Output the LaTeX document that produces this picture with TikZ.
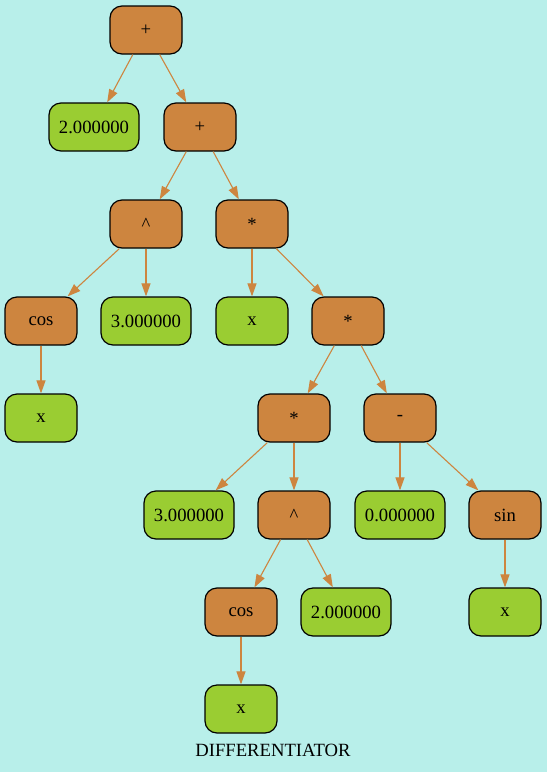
\documentclass[tikz,border=0pt]{standalone}
\usepackage{fontspec}
\setmainfont{Liberation Serif}
\usetikzlibrary{arrows.meta}
\definecolor{bgcol}{HTML}{B8EFEA}
\definecolor{opcol}{HTML}{CD853F}
\definecolor{leafcol}{HTML}{9ACD32}
\begin{document}
\begin{tikzpicture}[x=1pt,y=-1pt,
  label font/.style={font=\fontsize{18.67}{21}\selectfont},
  box/.style={draw=black,line width=1.2pt,rounded corners=12pt,minimum height=48pt,
    inner sep=0pt,label font},
  op/.style={box,fill=opcol,minimum width=72pt},
  leaf/.style={box,fill=leafcol,minimum width=72pt},
  num/.style={box,fill=leafcol,minimum width=90pt},
  link/.style={draw=opcol,line width=1.1pt,-{Triangle[length=13pt,width=9pt]}}]
\fill[bgcol] (0,0) rectangle (547,772);
\useasboundingbox (0,0) rectangle (547,772);
% expression tree
\node[op]   (n1)  at (146,30)  {+};
\node[num]  (n2)  at (94,127)  {2.000000};
\node[op]   (n3)  at (200,127) {+};
\node[op]   (n4)  at (146,224) {\^{}};
\node[op]   (n5)  at (252,224) {*};
\node[op]   (n6)  at (41,321)  {cos};
\node[num]  (n7)  at (146,321) {3.000000};
\node[leaf] (n8)  at (252,321) {x};
\node[op]   (n9)  at (348,321) {*};
\node[leaf] (n10) at (41,418)  {x};
\node[op]   (n11) at (294,418) {*};
\node[op]   (n12) at (400,418) {-};
\node[num]  (n13) at (189,515) {3.000000};
\node[op]   (n14) at (294,515) {\^{}};
\node[num]  (n15) at (400,515) {0.000000};
\node[op]   (n16) at (505,515) {sin};
\node[op]   (n17) at (241,612) {cos};
\node[num]  (n18) at (346,612) {2.000000};
\node[leaf] (n19) at (505,612) {x};
\node[leaf] (n20) at (241,709) {x};
\node[label font] (title) at (273,750) {DIFFERENTIATOR};
% edges
\foreach \a/\b in {n1/n2,n1/n3,n3/n4,n3/n5,n4/n6,n4/n7,n5/n8,n5/n9,n6/n10,
  n9/n11,n9/n12,n11/n13,n11/n14,n12/n15,n12/n16,n14/n17,n14/n18,n16/n19,n17/n20}
  \draw[link] (\a) -- (\b);
\end{tikzpicture}
\end{document}
